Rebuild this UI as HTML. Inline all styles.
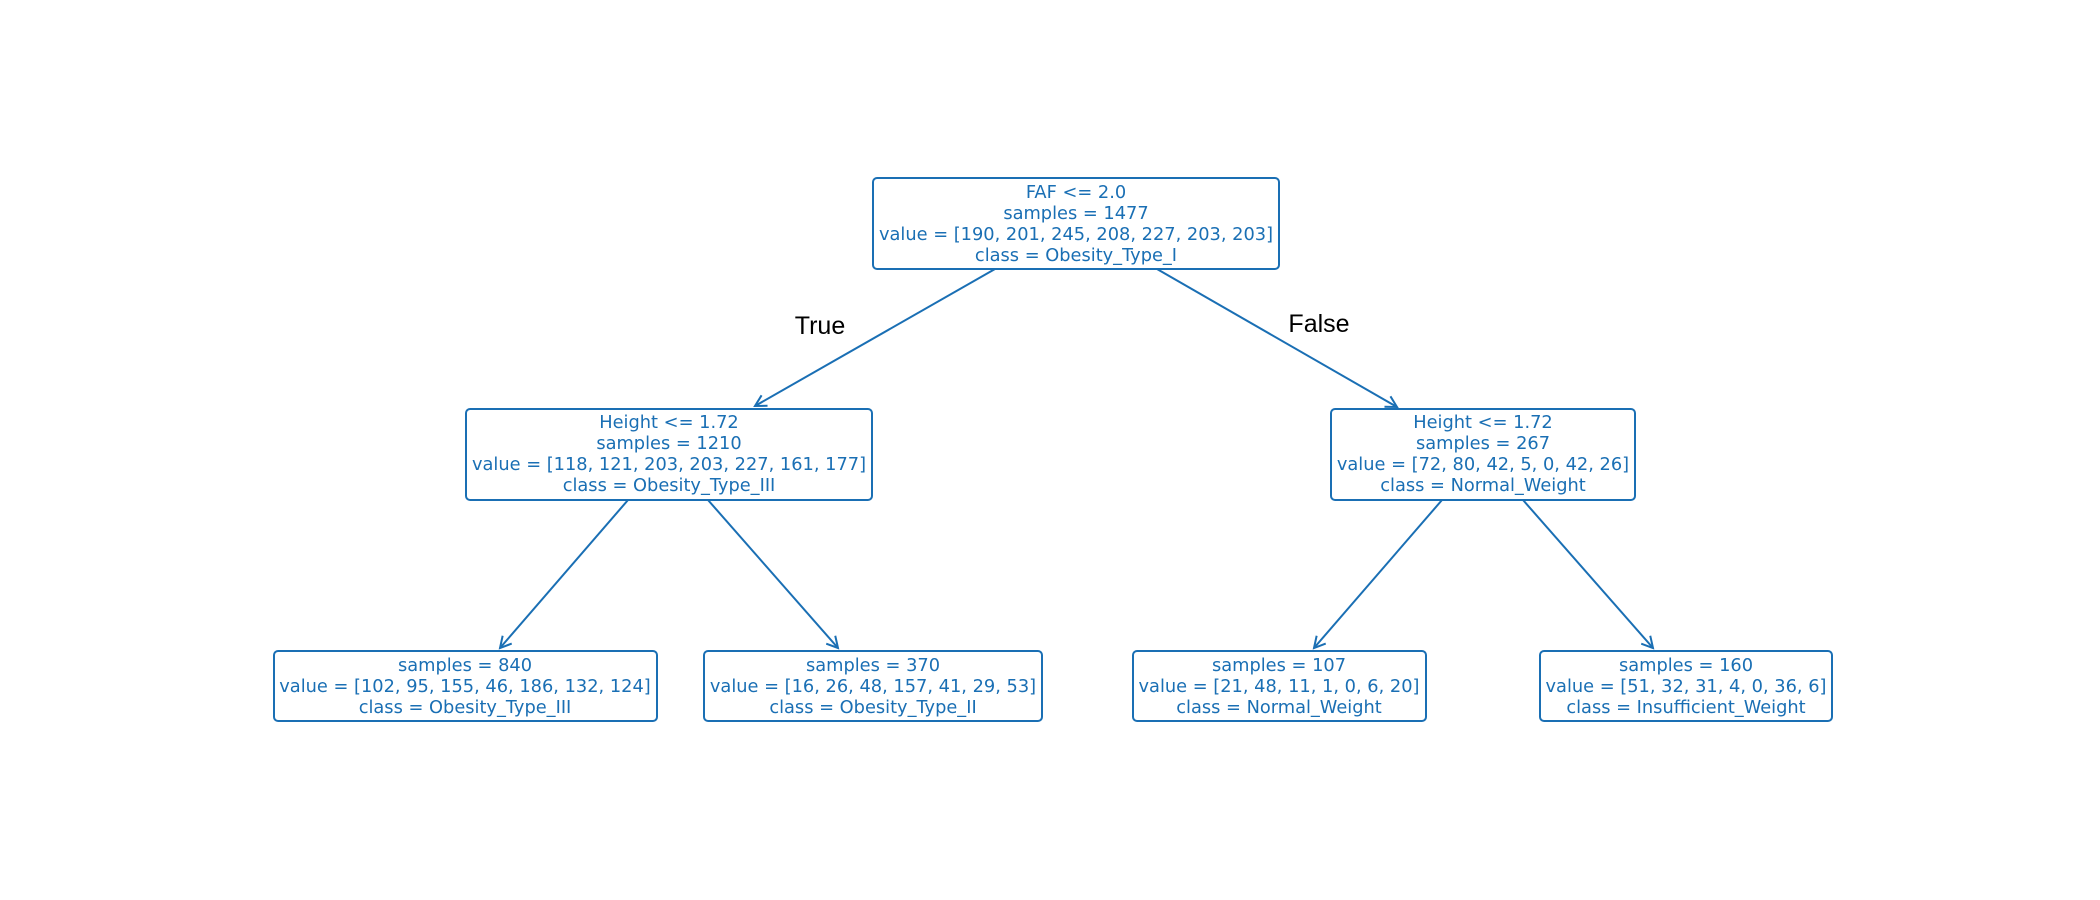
<!DOCTYPE html>
<html><head><meta charset="utf-8"><style>html,body{margin:0;padding:0;background:#fff}svg{display:block}</style></head>
<body>
<svg width="2100" height="900" viewBox="0 0 2100 900" xmlns="http://www.w3.org/2000/svg">
<defs>
<marker id="a" markerWidth="14" markerHeight="14" refX="12" refY="7" orient="auto" markerUnits="userSpaceOnUse">
<path d="M1,1 L12,7 L1,13" fill="none" stroke="#1a6fb4" stroke-width="2"/>
</marker>
</defs>
<g stroke="#1a6fb4" stroke-width="2" fill="none">
<line x1="995" y1="269" x2="755" y2="406" marker-end="url(#a)"/>
<line x1="1157" y1="269" x2="1397" y2="407" marker-end="url(#a)"/>
<line x1="628" y1="500" x2="500" y2="648" marker-end="url(#a)"/>
<line x1="708" y1="500" x2="838" y2="648" marker-end="url(#a)"/>
<line x1="1442" y1="500" x2="1314" y2="648" marker-end="url(#a)"/>
<line x1="1523" y1="500" x2="1653" y2="648" marker-end="url(#a)"/>
<rect x="873" y="178" width="406" height="91" rx="4"/>
<rect x="466" y="409" width="406" height="91" rx="4"/>
<rect x="1331" y="409" width="304" height="91" rx="4"/>
<rect x="274" y="651" width="383" height="70" rx="4"/>
<rect x="704" y="651" width="338" height="70" rx="4"/>
<rect x="1133" y="651" width="293" height="70" rx="4"/>
<rect x="1540" y="651" width="292" height="70" rx="4"/>
</g>
<g fill="#1a6fb4" font-family="DejaVu Sans, sans-serif" font-size="17.8" text-anchor="middle">
<text x="1076" y="198">FAF &lt;= 2.0</text>
<text x="1076" y="219">samples = 1477</text>
<text x="1076" y="240">value = [190, 201, 245, 208, 227, 203, 203]</text>
<text x="1076" y="261">class = Obesity_Type_I</text>
<text x="669" y="428">Height &lt;= 1.72</text>
<text x="669" y="449">samples = 1210</text>
<text x="669" y="470">value = [118, 121, 203, 203, 227, 161, 177]</text>
<text x="669" y="491">class = Obesity_Type_III</text>
<text x="1483" y="428">Height &lt;= 1.72</text>
<text x="1483" y="449">samples = 267</text>
<text x="1483" y="470">value = [72, 80, 42, 5, 0, 42, 26]</text>
<text x="1483" y="491">class = Normal_Weight</text>
<text x="465" y="671">samples = 840</text>
<text x="465" y="692">value = [102, 95, 155, 46, 186, 132, 124]</text>
<text x="465" y="713">class = Obesity_Type_III</text>
<text x="873" y="671">samples = 370</text>
<text x="873" y="692">value = [16, 26, 48, 157, 41, 29, 53]</text>
<text x="873" y="713">class = Obesity_Type_II</text>
<text x="1279" y="671">samples = 107</text>
<text x="1279" y="692">value = [21, 48, 11, 1, 0, 6, 20]</text>
<text x="1279" y="713">class = Normal_Weight</text>
<text x="1686" y="671">samples = 160</text>
<text x="1686" y="692">value = [51, 32, 31, 4, 0, 36, 6]</text>
<text x="1686" y="713">class = Insufficient_Weight</text>
</g>
<g fill="#000" font-family="Liberation Sans, sans-serif" font-size="25" text-anchor="middle">
<text x="820" y="334">True</text>
<text x="1319" y="332">False</text>
</g>
</svg>
</body></html>
